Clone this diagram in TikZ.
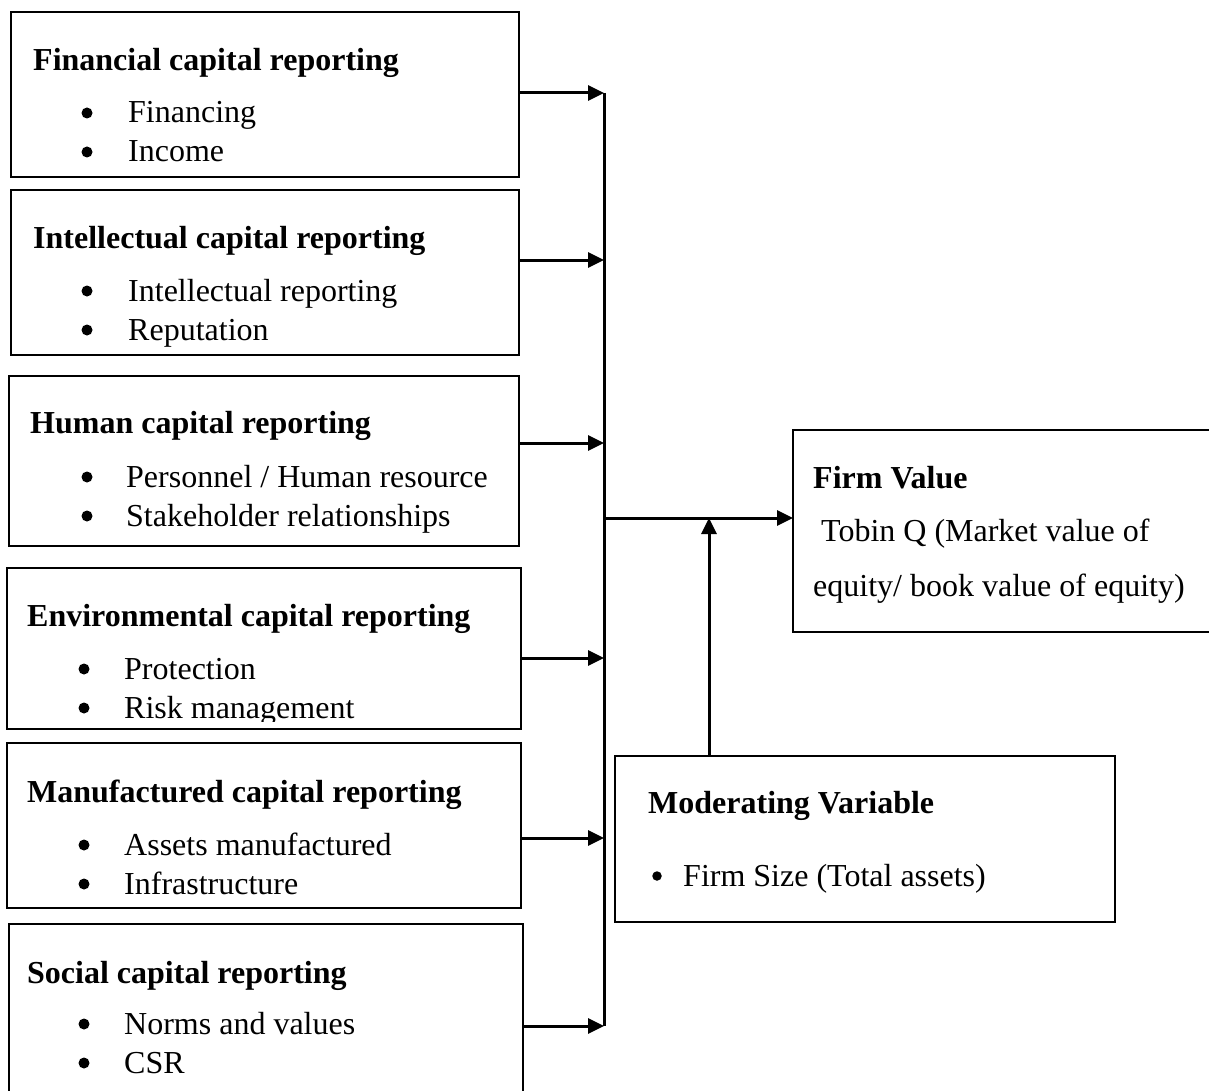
\documentclass[tikz,border=0pt]{standalone}
\usepackage{fontspec}
\setmainfont{Liberation Serif}
\usetikzlibrary{arrows.meta}
\begin{document}
\begin{tikzpicture}[x=1pt,y=-1pt,
  box/.style={draw=black, line width=2.1pt, inner sep=0pt, outer sep=0pt, anchor=north west},
  ttl/.style={anchor=base west, inner sep=0pt, font=\bfseries\fontsize{32}{38}\selectfont},
  itm/.style={anchor=base west, inner sep=0pt, font=\fontsize{32}{38}\selectfont},
  dot/.style={fill=black, circle, inner sep=0pt, minimum size=11pt},
  arr/.style={line width=3pt, -{Triangle[length=16pt,width=15pt]}},
  bus/.style={line width=3pt}]
\useasboundingbox (0,0) rectangle (1209,1091);
\clip (0,0) rectangle (1209,1091);

% left boxes
\node[box, minimum width=508pt, minimum height=165pt] (b1) at (11,12) {};
\node[box, minimum width=508pt, minimum height=165pt] (b2) at (11,190) {};
\node[box, minimum width=510pt, minimum height=170pt] (b3) at (9,376) {};
\node[box, minimum width=514pt, minimum height=161pt] (b4) at (7,568) {};
\node[box, minimum width=514pt, minimum height=165pt] (b5) at (7,743) {};
\node[box, minimum width=514pt, minimum height=200pt] (b6) at (9,924) {};

% texts box 1
\node[ttl] (t1) at (33,71) {Financial capital reporting};
\node[dot] (d11) at (87,113) {};
\node[itm] (i11) at (128,123) {Financing};
\node[dot] (d12) at (87,152) {};
\node[itm] (i12) at (128,162) {Income};
% box 2
\node[ttl] (t2) at (33,249) {Intellectual capital reporting};
\node[dot] (d21) at (87,291) {};
\node[itm] (i21) at (128,301) {Intellectual reporting};
\node[dot] (d22) at (87,330) {};
\node[itm] (i22) at (128,340) {Reputation};
% box 3
\node[ttl] (t3) at (30,433) {Human capital reporting};
\node[dot] (d31) at (87,477) {};
\node[itm] (i31) at (126,487) {Personnel / Human resource};
\node[dot] (d32) at (87,516) {};
\node[itm] (i32) at (126,526) {Stakeholder relationships};
% box 4
\node[ttl] (t4) at (27,626) {Environmental capital reporting};
\node[dot] (d41) at (84,669) {};
\node[itm] (i41) at (124,679) {Protection};
\node[dot] (d42) at (84,708) {};
\begin{scope}
\clip (0,560) rectangle (600,721);
\node[itm] (i42) at (124,718) {Risk management};
\end{scope}
% box 5
\node[ttl] (t5) at (27,802) {Manufactured capital reporting};
\node[dot] (d51) at (84,845) {};
\node[itm] (i51) at (124,855) {Assets manufactured};
\node[dot] (d52) at (84,884) {};
\node[itm] (i52) at (124,894) {Infrastructure};
% box 6
\node[ttl] (t6) at (27,983) {Social capital reporting};
\node[dot] (d61) at (84,1024) {};
\node[itm] (i61) at (124,1034) {Norms and values};
\node[dot] (d62) at (84,1063) {};
\node[itm] (i62) at (124,1073) {CSR};

% firm value box
\node[box, minimum width=440pt, minimum height=202pt] (fv) at (793,430) {};
\node[ttl] (fvt) at (813,488) {Firm Value};
\node[itm] (fv1) at (813,541) {\ Tobin Q (Market value of};
\node[itm] (fv2) at (813,596) {equity/ book value of equity)};

% moderating box
\node[box, minimum width=500pt, minimum height=166pt] (mv) at (615,756) {};
\node[ttl] (mvt) at (648,813) {Moderating Variable};
\node[dot, minimum size=9.5pt] (mvd) at (657,876) {};
\node[itm] (mv1) at (683,886) {Firm Size (Total assets)};

% bus coordinates
\coordinate (j1) at (604,93);
\coordinate (j2) at (604,260);
\coordinate (j3) at (604,443);
\coordinate (j4) at (604,658);
\coordinate (j5) at (604,838);
\coordinate (j6) at (604,1026);
\coordinate (jm) at (604,518);
\coordinate (jmod) at (709,518);

\draw[bus] (j1) -- (j6);
\draw[arr] (b1.east |- j1) -- (j1);
\draw[arr] (b2.east |- j2) -- (j2);
\draw[arr] (b3.east |- j3) -- (j3);
\draw[arr] (b4.east |- j4) -- (j4);
\draw[arr] (b5.east |- j5) -- (j5);
\draw[arr] (b6.east |- j6) -- (j6);
\draw[arr] (jm) -- (fv.west |- jm);
\draw[arr] (mv.north -| jmod) -- (jmod);
\end{tikzpicture}
\end{document}
